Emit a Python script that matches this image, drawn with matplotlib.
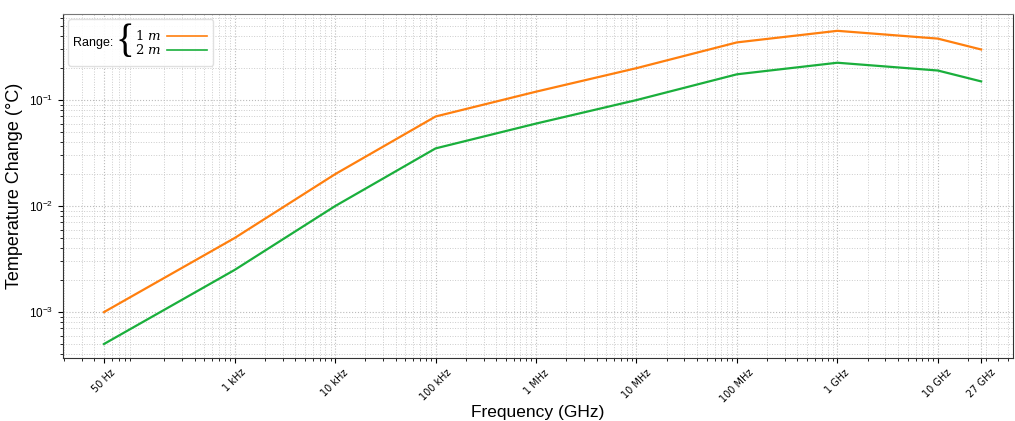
import numpy as np
import matplotlib.pyplot as plt
from matplotlib.lines import Line2D
from matplotlib.offsetbox import (AnchoredOffsetbox, HPacker, VPacker,
                                  TextArea, DrawingArea)

plt.rcParams['font.family'] = ['Liberation Sans', 'DejaVu Sans']
plt.rcParams['mathtext.fontset'] = 'dejavuserif'

freq_hz = [50, 1e3, 1e4, 1e5, 1e6, 1e7, 1e8, 1e9, 1e10, 2.7e10]
temp_1m = [1.0e-3, 5.0e-3, 2.0e-2, 7.0e-2, 0.12, 0.20, 0.35, 0.45, 0.38, 0.30]
temp_2m = [5.0e-4, 2.5e-3, 1.0e-2, 3.5e-2, 0.06, 0.10, 0.175, 0.225, 0.19, 0.15]

tick_pos = [50, 1e3, 1e4, 1e5, 1e6, 1e7, 1e8, 1e9, 1e10, 2.7e10]
tick_labels = ['50 Hz', '1 kHz', '10 kHz', '100 kHz', '1 MHz', '10 MHz',
               '100 MHz', '1 GHz', '10 GHz', '27 GHz']

c1 = '#ff7f0e'
c2 = '#1aaf3c'

fig = plt.figure(figsize=(10.15, 4.21), dpi=100)
ax = fig.add_axes([0.062, 0.150, 0.936, 0.817])

ax.plot(freq_hz, temp_1m, color=c1, lw=1.6)
ax.plot(freq_hz, temp_2m, color=c2, lw=1.6)

ax.set_xscale('log')
ax.set_yscale('log')
ax.set_xlim(19.5, 5.6e10)
ax.set_ylim(3.7e-4, 0.65)

ax.set_xticks(tick_pos)
ax.set_xticklabels(tick_labels, rotation=45, fontsize=7, family='DejaVu Sans')
ax.tick_params(axis='y', labelsize=8.5)
ax.grid(True, which='major', ls=':', color='#bbbbbb', lw=0.8)
ax.grid(True, which='minor', ls=':', color='#cccccc', lw=0.7)

for s in ax.spines.values():
    s.set_color('#333333')
ax.spines['top'].set_color('#777777')

ax.set_xlabel('Frequency (GHz)', fontsize=12.5, labelpad=0)
ax.set_ylabel('Temperature Change (°C)', fontsize=13)

# legend: "Range: { 1 m ---- / 2 m ----"
def row(label, color):
    da = DrawingArea(32, 8, 0, 0)
    da.add_artist(Line2D([2, 31], [4, 4], color=color, lw=1.2))
    return HPacker(children=[TextArea(label, textprops=dict(fontsize=9.5)), da],
                   align='center', pad=0, sep=2)

rows = VPacker(children=[row('$1\\ m$', c1), row('$2\\ m$', c2)],
               align='left', pad=0, sep=0)
brace = TextArea('{', textprops=dict(fontsize=28, family='Liberation Serif'))
rng = TextArea('Range:', textprops=dict(fontsize=9))
box = HPacker(children=[rng, brace, rows], align='center', pad=0, sep=1)
anch = AnchoredOffsetbox(loc='upper left', child=box, pad=0.35, borderpad=0.4,
                         frameon=True)
anch.patch.set_boxstyle('round,pad=0,rounding_size=0.2')
anch.patch.set_edgecolor('#dddddd')
anch.patch.set_alpha(0.9)
ax.add_artist(anch)

fig.savefig('out.png', dpi=100)
